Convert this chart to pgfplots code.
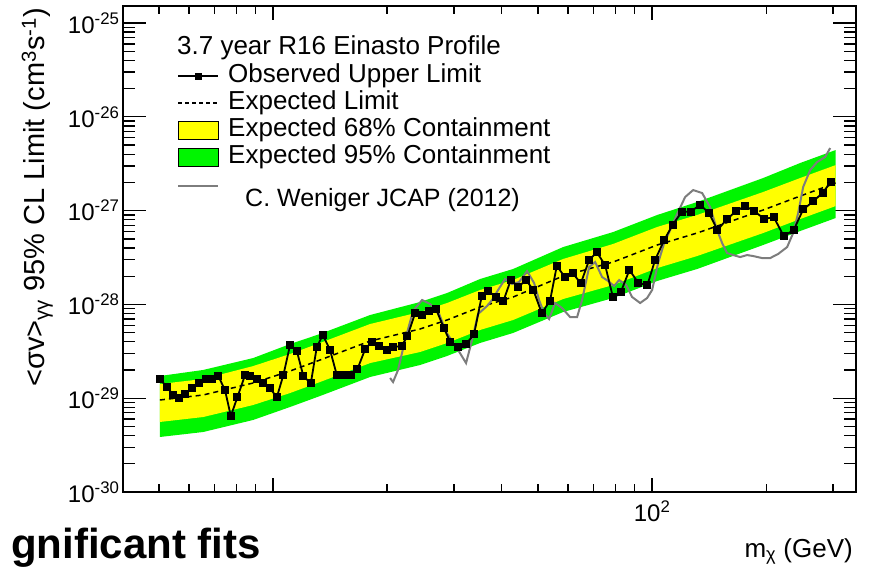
\documentclass[border=0pt]{standalone}
\usepackage{fontspec}
\setmainfont{Liberation Sans}
\usepackage{pgfplots}
\pgfplotsset{compat=1.18}
\usepgfplotslibrary{fillbetween}

\definecolor{bandyellow}{RGB}{255,255,0}
\definecolor{bandgreen}{RGB}{0,245,0}
\definecolor{refgray}{RGB}{125,125,125}

% legend symbols
\pgfplotsset{
  obslegend/.style={legend image code/.code={
    \draw[black, line width=2pt] (0pt,6pt) -- (40pt,6pt);
    \fill[black] (16.6pt,2.6pt) rectangle (23.4pt,9.4pt);}},
  explegend/.style={legend image code/.code={
    \draw[black, line width=1.4pt, dash pattern=on 4pt off 3pt] (0pt,6pt) -- (40pt,6pt);}},
  yellowlegend/.style={legend image code/.code={
    \draw[black, line width=1.3pt, fill=bandyellow] (0pt,-3pt) rectangle (40pt,15pt);}},
  greenlegend/.style={legend image code/.code={
    \draw[black, line width=1.3pt, fill=bandgreen] (0pt,-3pt) rectangle (40pt,15pt);}},
  graylegend/.style={legend image code/.code={
    \draw[refgray, line width=2pt] (0pt,4pt) -- (40pt,4pt);}},
}

% expected limit and containment bands (GeV, cm^3 s^-1)
\pgfplotstableread{
m      GT        YT        EX        YB        GB
5.03   1.725e-29 1.417e-29 9.57e-30  5.58e-30  3.86e-30
6.54   2.00e-29  1.602e-29 1.082e-29 6.30e-30  4.36e-30
8.86   2.68e-29  2.20e-29  1.452e-29 8.46e-30  5.86e-30
11.09  3.78e-29  2.96e-29  1.950e-29 1.136e-29 8.06e-30
13.30  4.84e-29  3.88e-29  2.554e-29 1.488e-29 1.055e-29
18.03  7.71e-29  6.18e-29  4.07e-29  2.37e-29  1.683e-29
24.43  1.061e-28 8.30e-29  5.47e-29  3.11e-29  2.26e-29
28.78  1.323e-28 1.035e-28 6.82e-29  3.88e-29  2.82e-29
35.17  1.866e-28 1.424e-28 9.38e-29  5.34e-29  3.88e-29
42.97  2.385e-28 1.820e-28 1.199e-28 6.82e-29  4.96e-29
58.24  4.09e-28  3.05e-28  2.008e-28 1.142e-28 8.30e-29
78.92  5.91e-28  4.41e-28  2.831e-28 1.610e-28 1.170e-28
103.1  8.98e-28  6.69e-28  4.30e-28  2.44e-28  1.777e-28
131.4  1.235e-27 8.98e-28  5.77e-28  3.28e-28  2.385e-28
196.3  2.226e-27 1.579e-27 1.015e-27 5.77e-28  4.30e-28
245.8  3.22e-27  2.226e-27 1.431e-27 8.14e-28  6.06e-28
305.0  4.43e-27  3.06e-27  1.969e-27 1.119e-27 8.34e-28
}\bands

% observed upper limit
\pgfplotstableread{
m     v
5.03  1.59e-29
5.24  1.33e-29
5.46  1.08e-29
5.66  9.97e-30
5.86  1.11e-29
6.10  1.28e-29
6.39  1.46e-29
6.66  1.59e-29
6.89  1.59e-29
7.17  1.73e-29
7.47  1.22e-29
7.74  6.46e-30
8.05  1.02e-29
8.44  1.77e-29
8.70  1.73e-29
9.06  1.59e-29
9.43  1.46e-29
9.82  1.28e-29
10.23 1.02e-29
10.65 1.77e-29
11.09 3.69e-29
11.55 3.21e-29
12.02 1.73e-29
12.58 1.44e-29
13.04 3.49e-29
13.53 4.72e-29
14.14 3.27e-29
14.73 1.77e-29
15.33 1.77e-29
16.06 1.77e-29
16.69 2.03e-29
17.49 3.32e-29
18.21 4.00e-29
19.08 3.60e-29
19.95 3.27e-29
20.77 3.49e-29
21.86 3.63e-29
22.62 4.60e-29
23.70 8.04e-29
24.77 7.71e-29
25.85 8.57e-29
26.92 8.87e-29
28.26 5.56e-29
29.31 4.00e-29
30.83 3.54e-29
32.30 3.78e-29
33.91 4.80e-29
35.53 1.23e-28
36.99 1.40e-28
38.76 1.19e-28
40.52 1.09e-28
42.38 1.82e-28
44.38 1.54e-28
46.50 1.82e-28
48.62 1.42e-28
51.17 8.04e-29
53.81 1.10e-28
56.04 2.57e-28
58.94 1.95e-28
61.77 2.15e-28
64.85 1.68e-28
68.21 2.97e-28
71.47 3.59e-28
75.16 2.63e-28
78.77 1.21e-28
82.67 1.35e-28
87.12 2.33e-28
92.03 1.69e-28
97.18 1.61e-28
101.8 2.97e-28
107.6 4.86e-28
113.4 7.11e-28
119.8 9.73e-28
126.5 9.73e-28
133.9 1.16e-27
141.4 9.36e-28
148.7 6.21e-28
157.4 8.08e-28
166.6 9.90e-28
176.0 1.12e-27
185.8 9.90e-28
197.5 8.18e-28
209.5 8.48e-28
222.6 5.32e-28
236.5 6.26e-28
250.3 1.03e-27
266.4 1.26e-27
282.1 1.56e-27
296.3 2.03e-27
}\observed

% C. Weniger (2012) limit
\pgfplotstableread{
m     v
20.36 1.642e-29
20.73 1.488e-29
21.37 2.00e-29
22.30 4.17e-29
23.41 8.51e-29
24.73 1.114e-28
25.96 1.010e-28
27.25 8.51e-29
28.61 5.08e-29
29.68 4.07e-29
30.77 3.27e-29
32.30 2.37e-29
33.50 4.17e-29
34.74 7.90e-29
36.70 9.62e-29
37.83 1.114e-28
39.24 1.424e-28
40.94 1.866e-28
42.71 1.651e-28
44.58 1.733e-28
46.79 2.27e-28
48.83 1.691e-28
50.33 1.114e-28
51.88 8.10e-29
53.48 6.99e-29
55.47 1.035e-28
57.88 9.15e-29
60.75 7.34e-29
63.41 7.34e-29
65.36 1.114e-28
68.21 2.504e-28
70.74 2.831e-28
73.81 1.959e-28
76.54 1.777e-28
79.40 1.571e-28
81.85 1.820e-28
85.41 1.610e-28
88.56 1.199e-28
92.97 1.035e-28
97.0  1.170e-28
100.0 1.424e-28
103.7 2.763e-28
107.6 4.51e-28
112.2 6.52e-28
116.4 9.20e-28
122.2 1.396e-27
128.3 1.658e-27
135.5 1.540e-27
142.2 1.092e-27
148.4 6.21e-28
153.0 4.51e-28
157.7 3.53e-28
163.6 3.36e-28
170.7 3.20e-28
178.1 3.36e-28
184.7 3.28e-28
195.1 3.12e-28
204.8 3.12e-28
215.0 3.45e-28
227.1 4.09e-28
235.5 5.77e-28
242.8 9.43e-28
250.3 1.785e-27
261.2 2.71e-27
272.5 3.30e-27
286.1 3.73e-27
294.9 4.65e-27
}\weniger

\begin{document}
\begin{tikzpicture}
\begin{axis}[
  name=ax, at={(0pt,0pt)}, anchor=south west,
  scale only axis, width=733pt, height=486pt,
  xmode=log, ymode=log,
  xmin=4.02, xmax=345, ymin=1e-30, ymax=1.52e-25,
  xtick={10,100}, xticklabels={,10\textsuperscript{2}},
  minor xtick={5,6,7,8,9,20,30,40,50,60,70,80,90,200,300},
  ytick={1e-30,1e-29,1e-28,1e-27,1e-26,1e-25},
  yticklabels={10\textsuperscript{-30},10\textsuperscript{-29},10\textsuperscript{-28},10\textsuperscript{-27},10\textsuperscript{-26},10\textsuperscript{-25}},
  minor ytick={2e-30,3e-30,4e-30,5e-30,6e-30,7e-30,8e-30,9e-30,
               2e-29,3e-29,4e-29,5e-29,6e-29,7e-29,8e-29,9e-29,
               2e-28,3e-28,4e-28,5e-28,6e-28,7e-28,8e-28,9e-28,
               2e-27,3e-27,4e-27,5e-27,6e-27,7e-27,8e-27,9e-27,
               2e-26,3e-26,4e-26,5e-26,6e-26,7e-26,8e-26,9e-26},
  tick align=inside, tick pos=both,
  major tick length=23pt, minor tick length=12pt,
  xtick style={/pgfplots/major tick length=14pt,/pgfplots/minor tick length=8pt},
  tick style={line width=1.3pt, black},
  axis line style={line width=1.8pt, black},
  tick label style={font=\fontsize{24}{28}\selectfont, black},
  xticklabel style={yshift=-5pt},
  legend style={at={(axis description cs:0.0737,0.8807)}, anchor=north west,
    draw=none, fill=none, inner sep=0pt, row sep=3pt, column sep=9pt,
    font=\fontsize{26}{30}\selectfont,
    nodes={inner sep=0pt, text height=18pt, text depth=6pt, anchor=base west}},
  legend cell align=left,
]
% containment bands
\addplot[name path=gt, draw=none, forget plot] table[x=m, y=GT] {\bands};
\addplot[name path=gb, draw=none, forget plot] table[x=m, y=GB] {\bands};
\addplot[name path=yt, draw=none, forget plot] table[x=m, y=YT] {\bands};
\addplot[name path=yb, draw=none, forget plot] table[x=m, y=YB] {\bands};
\addplot[bandgreen, forget plot] fill between[of=gt and gb];
\addplot[bandyellow, forget plot] fill between[of=yt and yb];
% expected limit
\addplot[black, line width=1.5pt, dash pattern=on 5pt off 4pt, forget plot]
  table[x=m, y=EX] {\bands};
% Weniger limit
\addplot[refgray, line width=2pt, forget plot] table[x=m, y=v] {\weniger};
% observed upper limit
\addplot[black, line width=1.8pt, mark=square*, mark size=3.1pt, forget plot]
  table[x=m, y=v] {\observed};

% legend
\addlegendimage{obslegend}
\addlegendentry{Observed Upper Limit}
\addlegendimage{explegend}
\addlegendentry{Expected Limit}
\addlegendimage{yellowlegend}
\addlegendentry{Expected 68\% Containment}
\addlegendimage{greenlegend}
\addlegendentry{Expected 95\% Containment}
\addlegendimage{graylegend}
\addlegendentry{}
\end{axis}

% legend header and annotation
\node[anchor=base west, inner sep=0pt, font=\fontsize{26}{30}\selectfont]
  at (54pt,437pt) {3.7 year R16 Einasto Profile};
\fill[white] (100pt,277pt) rectangle (422pt,319pt);
\node[anchor=base west, inner sep=0pt, font=\fontsize{25}{30}\selectfont]
  at (122pt,285pt) {C. Weniger JCAP (2012)};

% axis titles
\node[rotate=90, anchor=base east, inner sep=0pt, font=\fontsize{29}{34}\selectfont]
  at (-78pt,484pt) {<σv>\textsubscript{γγ} 95\% CL Limit (cm\textsuperscript{3}s\textsuperscript{-1})};
\node[anchor=base east, inner sep=0pt, font=\fontsize{26}{30}\selectfont]
  at (730pt,-65pt) {m\textsubscript{χ} (GeV)};

% slide heading running under the plot
\node[anchor=base east, inner sep=0pt, font=\bfseries\fontsize{42}{48}\selectfont]
  at (138pt,-66pt) {gnificant fits};

\pgfresetboundingbox
\path[use as bounding box] (-123pt,-76pt) rectangle (747pt,492pt);
\end{tikzpicture}
\end{document}
